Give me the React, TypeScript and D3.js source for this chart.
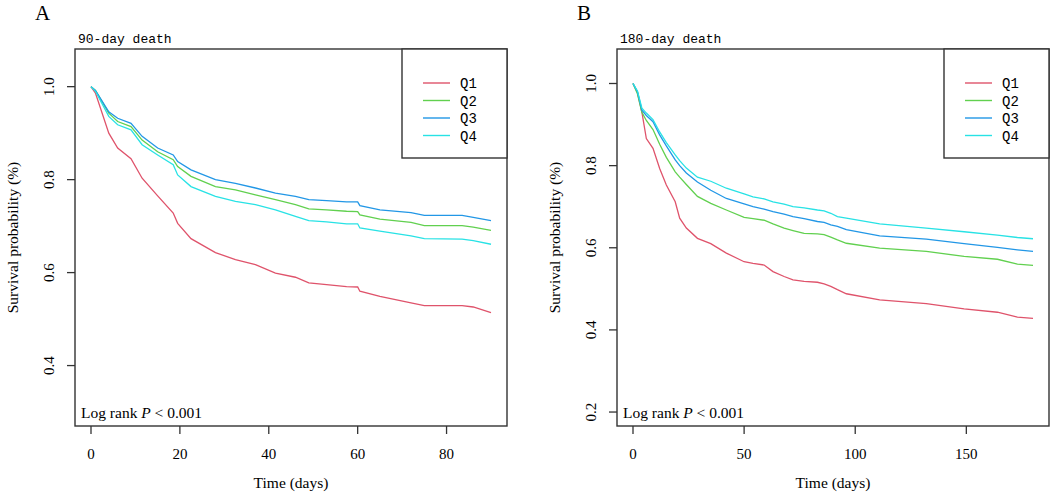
import * as d3 from 'd3'

// Panel A: 90-day death
const daysA = [0, 1, 4, 6, 9, 11.5, 15, 18.5, 19.5, 22.5, 28, 32.5, 37, 41.5, 46, 49, 53, 57.5, 60, 60.5, 65, 72, 75, 83.5, 86, 90]
const q1A = [1, 0.986, 0.9, 0.868, 0.845, 0.803, 0.765, 0.728, 0.706, 0.673, 0.643, 0.628, 0.617, 0.599, 0.59, 0.578, 0.574, 0.57, 0.569, 0.56, 0.549, 0.535, 0.529, 0.529, 0.526, 0.514]
const q2A = [1, 0.992, 0.943, 0.925, 0.914, 0.885, 0.86, 0.843, 0.828, 0.807, 0.785, 0.778, 0.767, 0.757, 0.746, 0.737, 0.735, 0.732, 0.731, 0.724, 0.715, 0.708, 0.701, 0.701, 0.698, 0.691]
const q3A = [1, 0.992, 0.946, 0.932, 0.921, 0.893, 0.868, 0.853, 0.839, 0.821, 0.8, 0.792, 0.782, 0.771, 0.764, 0.757, 0.755, 0.752, 0.752, 0.744, 0.735, 0.729, 0.723, 0.723, 0.719, 0.712]
const q4A = [1, 0.99, 0.936, 0.918, 0.907, 0.875, 0.853, 0.832, 0.81, 0.785, 0.764, 0.753, 0.746, 0.735, 0.721, 0.712, 0.709, 0.705, 0.705, 0.696, 0.689, 0.679, 0.673, 0.672, 0.669, 0.661]

// Panel B: 180-day death
const daysB = [0, 2, 4, 6, 9, 12, 15, 19, 21, 24, 29, 35, 42, 50, 54, 59, 63, 68, 72, 77, 83, 86, 89, 92, 96, 111, 132, 149, 164, 173, 180]
const q1B = [1, 0.978, 0.93, 0.866, 0.842, 0.793, 0.753, 0.712, 0.672, 0.648, 0.623, 0.61, 0.587, 0.566, 0.562, 0.558, 0.542, 0.53, 0.522, 0.518, 0.516, 0.512, 0.506, 0.498, 0.488, 0.473, 0.464, 0.451, 0.443, 0.431, 0.428]
const q2B = [1, 0.975, 0.93, 0.91, 0.888, 0.852, 0.82, 0.785, 0.772, 0.754, 0.725, 0.708, 0.692, 0.674, 0.671, 0.667, 0.658, 0.648, 0.642, 0.635, 0.634, 0.632, 0.626, 0.619, 0.611, 0.599, 0.591, 0.579, 0.572, 0.56, 0.557]
const q3B = [1, 0.98, 0.935, 0.922, 0.907, 0.875, 0.848, 0.814, 0.8, 0.782, 0.76, 0.74, 0.72, 0.707, 0.7, 0.694, 0.688, 0.682, 0.676, 0.671, 0.664, 0.662, 0.656, 0.652, 0.644, 0.629, 0.621, 0.61, 0.601, 0.595, 0.591]
const q4B = [1, 0.982, 0.94, 0.928, 0.912, 0.882, 0.856, 0.826, 0.812, 0.794, 0.772, 0.762, 0.745, 0.731, 0.724, 0.719, 0.712, 0.706, 0.7, 0.697, 0.692, 0.69, 0.684, 0.676, 0.672, 0.658, 0.648, 0.639, 0.631, 0.625, 0.622]

const groups = ['Q1', 'Q2', 'Q3', 'Q4']
const colors = ['#DF536B', '#61D04F', '#2297E6', '#28E2E5']

const xTicksA = [0, 20, 40, 60, 80]
const yTicksA = [0.4, 0.6, 0.8, 1.0]
const xTicksB = [0, 50, 100, 150]
const yTicksB = [0.2, 0.4, 0.6, 0.8, 1.0]

const SERIF = '"Liberation Serif", "Times New Roman", serif'
const MONO = '"Liberation Mono", "DejaVu Sans Mono", monospace'
const AXIS = '#333'

interface PanelProps {
  letter: string
  title: string
  days: number[]
  series: number[][]
  xDomain: [number, number]
  yDomain: [number, number]
  xTicks: number[]
  yTicks: number[]
  left: number
  right: number
  legendLeft: number
}

function Panel({ letter, title, days, series, xDomain, yDomain, xTicks, yTicks, left, right, legendLeft }: PanelProps) {
  const top = 49
  const bottom = 426
  const x = d3.scaleLinear().domain(xDomain).range([left, right])
  const y = d3.scaleLinear().domain(yDomain).range([bottom, top])

  const line = d3
    .line<number>()
    .x((_, i) => x(days[i]))
    .y((d) => y(d))

  const legendBottom = 158
  const midY = (top + bottom) / 2

  return (
    <g>
      <text x={left - 40} y={20} fontFamily={SERIF} fontSize={21}>{letter}</text>
      <text x={left + 3} y={43} fontFamily={MONO} fontSize={13}>{title}</text>

      {series.map((vals, k) => (
        <path key={k} d={line(vals) ?? ''} fill="none" stroke={colors[k]} strokeWidth={1.3} />
      ))}

      <rect x={left} y={top} width={right - left} height={bottom - top} fill="none" stroke={AXIS} strokeWidth={1.4} />

      {/* legend */}
      <rect x={legendLeft} y={top} width={right - legendLeft} height={legendBottom - top} fill="white" stroke={AXIS} strokeWidth={1.4} />
      {groups.map((g, k) => {
        const ly = 83 + k * 17.5
        return (
          <g key={g}>
            <line x1={legendLeft + 21} x2={legendLeft + 48} y1={ly} y2={ly} stroke={colors[k]} strokeWidth={1.4} />
            <text x={legendLeft + 58} y={ly + 5} fontFamily={MONO} fontSize={14}>{g}</text>
          </g>
        )
      })}

      {/* x axis */}
      {xTicks.map((t) => (
        <g key={t}>
          <line x1={x(t)} x2={x(t)} y1={bottom} y2={bottom + 8} stroke={AXIS} strokeWidth={1.3} />
          <text x={x(t)} y={459} textAnchor="middle" fontFamily={SERIF} fontSize={15}>{t}</text>
        </g>
      ))}
      <text x={(left + right) / 2} y={488} textAnchor="middle" fontFamily={SERIF} fontSize={15.5}>Time (days)</text>

      {/* y axis */}
      {yTicks.map((t) => (
        <g key={t}>
          <line x1={left - 8} x2={left} y1={y(t)} y2={y(t)} stroke={AXIS} strokeWidth={1.3} />
          <text
            transform={`translate(${left - 21},${y(t)}) rotate(-90)`}
            textAnchor="middle"
            fontFamily={SERIF}
            fontSize={15}
          >
            {t.toFixed(1)}
          </text>
        </g>
      ))}
      <text
        transform={`translate(${left - 57},${midY}) rotate(-90)`}
        textAnchor="middle"
        fontFamily={SERIF}
        fontSize={15.5}
      >
        Survival probability (%)
      </text>

      <text x={left + 6} y={418} fontFamily={SERIF} fontSize={15.5}>
        Log rank <tspan fontStyle="italic">P</tspan> &lt; 0.001
      </text>
    </g>
  )
}

export default function App() {
  return (
    <svg
      width={1052}
      height={494}
      style={{ position: 'absolute', left: 0, top: 0, background: 'white', display: 'block' }}
    >
      <rect width={1052} height={494} fill="white" />
      <Panel
        letter="A"
        title="90-day death"
        days={daysA}
        series={[q1A, q2A, q3A, q4A]}
        xDomain={[-3.6, 93.6]}
        yDomain={[0.27, 1.081]}
        xTicks={xTicksA}
        yTicks={yTicksA}
        left={75}
        right={507}
        legendLeft={402}
      />
      <Panel
        letter="B"
        title="180-day death"
        days={daysB}
        series={[q1B, q2B, q3B, q4B]}
        xDomain={[-7.2, 187.2]}
        yDomain={[0.166, 1.084]}
        xTicks={xTicksB}
        yTicks={yTicksB}
        left={617}
        right={1049}
        legendLeft={944}
      />
    </svg>
  )
}
